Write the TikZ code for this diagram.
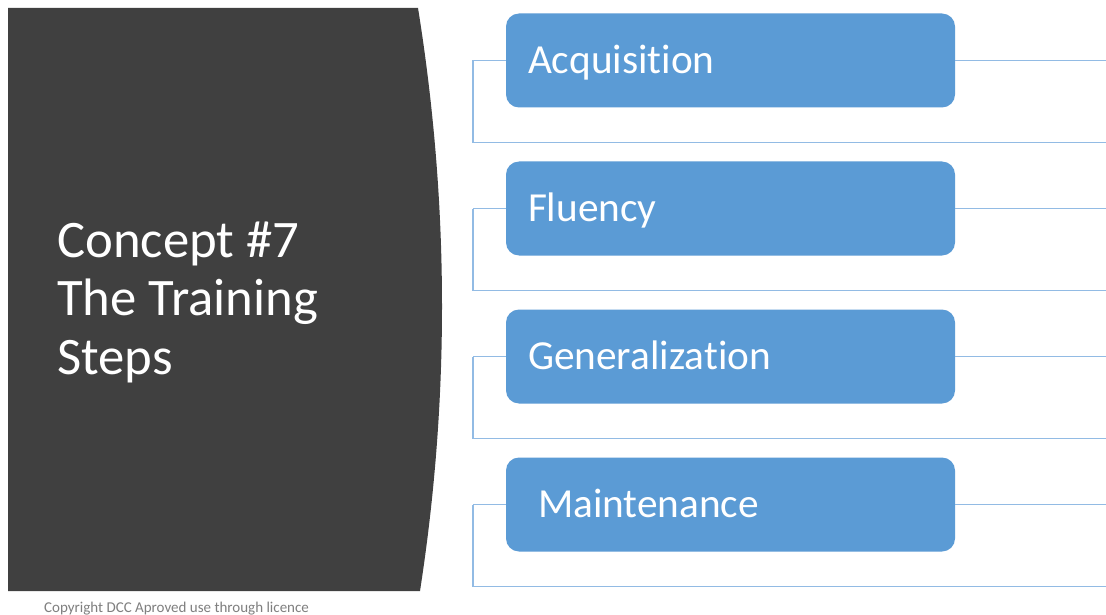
\documentclass[tikz,border=0pt]{standalone}
\usepackage{fontspec}
\setmainfont[RawFeature={-liga}]{Carlito}
\definecolor{panelgray}{HTML}{404040}
\definecolor{stepblue}{HTML}{5B9BD5}
\definecolor{linkblue}{HTML}{92BBE4}
\definecolor{notegray}{HTML}{7F7F7F}
\begin{document}
\begin{tikzpicture}[x=1pt,y=-1pt,
  stepbox/.style={fill=stepblue, rounded corners=13pt, minimum width=449pt,
    minimum height=94pt, text width=405pt, inner xsep=22pt, inner ysep=0pt,
    align=left, text height=26pt, text depth=0pt, text=white,
    font=\fontsize{41.3}{48}\selectfont},
  titleline/.style={anchor=base west, inner sep=0pt, text=white,
    font=\fontsize{52.7}{58}\selectfont},
  link/.style={draw=linkblue, line width=1.3pt}]
\useasboundingbox (0,0) rectangle (1106,615);
\fill[white] (0,0) rectangle (1106,615);

% dark title panel with a bulging right edge
\fill[panelgray] (8,8) -- (418,8)
  .. controls (449.3,203) and (450,397.3) .. (420,591) -- (8,591) -- cycle;

\node[titleline] (t1) at (57,257) {Concept \#7};
\node[titleline] (t2) at (57,315.5) {The Training};
\node[titleline] (t3) at (57,374) {Steps};

% the four steps with their bracket connectors
\foreach \name/\lbl/\c in {acq/Acquisition/60.5, flu/Fluency/208.5,
    gen/Generalization/356.5, mai/\hspace*{10pt}Maintenance/504.5}{
  \coordinate (\name-corner) at (473,\c);
  \coordinate (\name-low) at (473,\c+82);
  \coordinate (\name-lowend) at (1106,\c+82);
  \coordinate (\name-end) at (1106,\c);
  \draw[link] (\name-corner) -- (\name-low) -- (\name-lowend);
  \node[stepbox] (\name) at (730.5,\c) {\lbl};
  \draw[link] (\name.west) -- (\name-corner);
  \draw[link] (\name.east) -- (\name-end);
}

\node[anchor=base west, inner sep=0pt, text=notegray,
  font=\fontsize{15}{17}\selectfont] (copy) at (44,612)
  {Copyright DCC Aproved use through licence};
\end{tikzpicture}
\end{document}
